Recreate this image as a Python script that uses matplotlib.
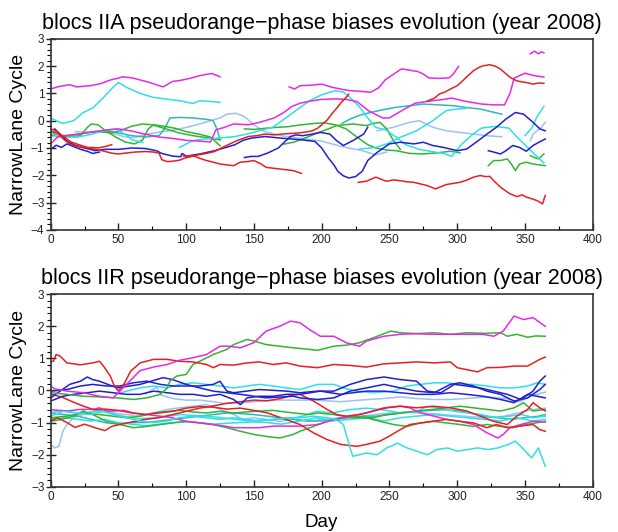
import matplotlib
matplotlib.use("Agg")
import matplotlib.pyplot as plt
from matplotlib.ticker import MultipleLocator

plt.rcParams['font.family'] = ['Liberation Sans', 'DejaVu Sans']

MAG = '#e629e6'
CYA = '#2fdfe6'
GRN = '#33b533'
RED = '#e62020'
BLU = '#2020d2'
LBL = '#9cc2ee'
TEA = '#2fb8b8'

# ---------------- blocs IIA ----------------
iia_mag1_d = [0, 5, 14, 19, 29, 37, 44, 50, 53, 61, 67, 73, 79, 83, 90, 95, 100, 105, 110, 115, 119, 125]
iia_mag1_v = [1.16, 1.24, 1.32, 1.24, 1.28, 1.36, 1.49, 1.56, 1.61, 1.56, 1.48, 1.40, 1.30, 1.24, 1.44, 1.47, 1.52, 1.58, 1.65, 1.70, 1.73, 1.61]
iia_mag2_d = [176, 180, 184, 192, 200, 208, 215, 221, 228, 236, 242, 247, 255, 259, 265, 271, 275, 279, 286, 294, 297, 301]
iia_mag2_v = [1.24, 1.16, 1.28, 1.30, 1.34, 1.22, 1.15, 1.10, 1.08, 1.04, 1.20, 1.50, 1.77, 1.90, 1.85, 1.80, 1.71, 1.57, 1.55, 1.57, 1.70, 1.99]
iia_mag3_d = [0, 5, 12, 20, 30, 40, 50, 60, 70, 80, 90, 100, 110, 118, 122, 128, 135, 146, 155, 165, 172, 178, 184, 192, 200, 210, 218, 226, 235, 245, 250, 255, 262, 269, 280, 290, 296, 305, 318, 327, 335, 339, 342, 350, 357, 364]
iia_mag3_v = [-0.85, -0.6, -0.55, -0.5, -0.42, -0.35, -0.3, -0.38, -0.5, -0.6, -0.65, -0.72, -0.75, -0.78, -0.33, -0.25, -0.12, -0.15, -0.05, 0.1, 0.3, 0.52, 0.64, 0.72, 0.78, 0.8, 0.78, 0.7, 0.35, 0.1, 0.1, 0.25, 0.45, 0.64, 0.72, 0.78, 0.83, 0.72, 0.61, 0.58, 0.58, 1.0, 1.56, 1.74, 1.65, 1.60]
iia_mag4_d = [354, 357, 360, 362, 364]
iia_mag4_v = [2.45, 2.55, 2.45, 2.52, 2.49]

iia_red1_d = [2, 6, 10, 15, 20, 25, 30, 35, 40, 45]
iia_red1_v = [-0.40, -0.5, -0.70, -0.88, -0.95, -1.0, -0.98, -1.0, -0.95, -0.88]
iia_red2_d = [0, 3, 6, 10, 15, 22, 30, 38, 45, 50, 55, 62, 70, 76, 80, 82, 86, 89, 95, 99, 105, 109, 115, 121, 126, 131, 138, 146, 152, 158, 165, 171, 177, 183, 188, 193, 197, 200, 204, 207, 211, 215, 218, 220]
iia_red2_v = [-0.30, -0.35, -0.45, -0.6, -0.78, -0.9, -1.02, -1.1, -1.19, -1.22, -1.19, -1.15, -1.13, -1.15, -1.19, -1.43, -1.50, -1.49, -1.45, -1.37, -1.30, -1.25, -1.20, -1.13, -1.00, -0.88, -0.72, -0.58, -0.55, -0.49, -0.52, -0.49, -0.47, -0.45, -0.42, -0.37, -0.28, -0.15, 0.02, 0.22, 0.45, 0.70, 0.85, 0.97]
iia_red3_d = [98, 105, 110, 115, 120, 125, 130, 135, 140, 145, 150, 155, 159, 164, 169, 174, 179, 185]
iia_red3_v = [-1.30, -1.28, -1.38, -1.46, -1.52, -1.59, -1.62, -1.65, -1.52, -1.50, -1.46, -1.58, -1.71, -1.74, -1.77, -1.80, -1.83, -1.93]
iia_red4_d = [227, 233, 240, 244, 248, 253, 258, 263, 268, 273, 278, 284, 288, 292, 297, 302, 307, 312, 317, 321, 324, 328, 332, 336, 339, 344, 348, 351, 355, 359, 363, 365]
iia_red4_v = [-2.26, -2.22, -2.07, -2.15, -2.22, -2.17, -2.20, -2.24, -2.26, -2.32, -2.38, -2.50, -2.42, -2.34, -2.30, -2.26, -2.18, -2.07, -2.01, -2.05, -2.04, -2.25, -2.44, -2.58, -2.68, -2.78, -2.72, -2.80, -2.86, -2.93, -3.05, -2.74]
iia_red5_d = [278, 283, 287, 291, 295, 300, 304, 308, 312, 316, 319, 324, 328, 332, 336, 339, 344, 348, 351, 356, 360, 364]
iia_red5_v = [0.72, 0.82, 0.98, 1.05, 1.16, 1.28, 1.46, 1.65, 1.83, 1.95, 2.01, 2.05, 2.0, 1.89, 1.72, 1.59, 1.46, 1.42, 1.40, 1.34, 1.38, 1.37]

iia_blue1_d = [3, 8, 12, 18, 25, 33, 40, 50, 60, 70, 78, 82, 90, 96, 97, 100, 110, 121, 128, 136, 142, 148, 158, 170, 185, 195, 200, 205, 209, 212, 216, 220, 225, 230, 234, 241, 250, 258, 268, 275, 282, 290, 300, 307, 314, 322, 329, 336, 343, 349, 356, 361, 365]
iia_blue1_v = [-0.3, -0.55, -0.75, -0.9, -1.0, -1.1, -1.05, -1.05, -1.0, -1.02, -1.1, -1.2, -1.3, -1.32, -1.2, -1.3, -1.22, -1.10, -1.0, -0.88, -0.72, -0.64, -0.58, -0.64, -0.70, -0.76, -1.0, -1.37, -1.62, -1.86, -2.02, -2.10, -2.05, -1.85, -1.46, -1.16, -0.85, -0.79, -0.85, -0.79, -0.91, -0.98, -1.10, -1.04, -0.79, -0.49, -0.24, 0.06, 0.30, 0.24, -0.06, -0.30, -0.37]
iia_blue2_d = [0, 4, 8, 12, 17, 22, 27, 31, 36]
iia_blue2_v = [-1.05, -0.9, -0.98, -0.85, -0.95, -1.05, -1.12, -1.2, -1.15]
iia_blue3_d = [143, 148, 153, 160, 168, 173, 177, 181, 186, 192, 199, 206, 211, 216, 223, 231, 234]
iia_blue3_v = [-1.35, -1.31, -1.31, -1.19, -1.0, -0.76, -0.58, -0.52, -0.55, -0.5, -0.43, -0.49, -0.73, -0.91, -0.73, -0.49, -0.24]
iia_blue4_d = [323, 327, 332, 336, 341, 346, 351, 356, 360, 365]
iia_blue4_v = [-1.10, -1.15, -1.22, -1.1, -0.91, -0.98, -1.12, -0.91, -0.8, -0.67]

iia_grn1_d = [0, 4, 12, 22, 27, 30, 35, 40, 48, 55, 62, 68, 72, 76, 83, 92, 100, 110, 118, 125]
iia_grn1_v = [-0.35, -0.55, -0.6, -0.55, -0.25, -0.12, -0.15, -0.35, -0.6, -0.78, -0.85, -0.7, -0.3, -0.15, -0.2, -0.28, -0.4, -0.5, -0.6, -0.92]
iia_grn2_d = [0, 8, 16, 25, 35, 45, 52, 60, 68, 75, 85, 95, 105, 115, 125]
iia_grn2_v = [-0.55, -0.55, -0.52, -0.45, -0.4, -0.45, -0.35, -0.2, -0.12, -0.15, -0.3, -0.45, -0.55, -0.62, -0.7]
iia_grn3_d = [143, 150, 158, 165, 175, 185, 195, 202, 210, 218, 226, 234, 240, 247, 255, 265, 275, 285, 295, 302]
iia_grn3_v = [-0.3, -0.32, -0.28, -0.25, -0.22, -0.15, -0.1, -0.08, -0.15, -0.3, -0.6, -0.88, -1.0, -1.07, -1.1, -1.2, -1.22, -1.18, -1.12, -1.18]
iia_grn4_d = [172, 180, 189, 198, 205, 211, 217, 223, 228, 233, 238, 243, 248, 253, 258]
iia_grn4_v = [-0.86, -0.78, -0.61, -0.43, -0.3, -0.18, -0.15, -0.12, -0.15, -0.18, -0.1, -0.06, -0.3, -0.73, -1.05]
iia_grn5_d = [323, 327, 332, 337, 340, 343, 346, 351, 356, 361, 365]
iia_grn5_v = [-1.65, -1.46, -1.46, -1.40, -1.59, -1.83, -1.59, -1.52, -1.59, -1.62, -1.65]
iia_grn6_d = [354, 357, 360, 364]
iia_grn6_v = [-1.28, -1.35, -1.4, -1.22]

iia_cya1_d = [0, 5, 9, 17, 24, 31, 39, 46, 50, 56, 66, 76, 86, 95, 105, 110, 117, 125]
iia_cya1_v = [0.10, -0.02, -0.10, 0.0, 0.30, 0.46, 0.85, 1.22, 1.40, 1.22, 1.00, 0.85, 0.79, 0.73, 0.63, 0.73, 0.71, 0.67]
iia_cya2_d = [95, 105, 115, 125, 135, 145, 154, 164, 174, 181, 191, 200, 210, 216, 222, 228, 234, 240, 247, 255, 262, 272, 281, 290, 296, 303, 311, 318, 328, 338, 345, 355, 364]
iia_cya2_v = [-0.98, -0.73, -0.67, -0.63, -0.59, -0.49, -0.37, -0.24, 0.12, 0.37, 0.73, 0.95, 1.1, 1.05, 0.8, 0.5, 0.1, -0.25, -0.33, -0.6, -0.88, -1.05, -1.13, -1.2, -1.31, -0.88, -0.52, -0.27, -0.21, -0.27, -0.64, -1.13, -1.55]
iia_cya3_d = [228, 240, 248, 258, 270, 282, 292, 300, 306]
iia_cya3_v = [-1.04, -0.98, -0.85, -0.61, -0.37, 0.0, 0.37, 0.43, 0.45]
iia_cya4_d = [350, 355, 359, 364]
iia_cya4_v = [-0.55, -0.27, 0.15, 0.52]
iia_cya5_d = [0, 10, 20, 30, 40, 48, 55, 60, 68]
iia_cya5_v = [-0.5, -0.6, -0.6, -0.5, -0.35, -0.3, -0.5, -0.7, -0.8]

iia_tea1_d = [40, 50, 60, 70, 80, 84, 88, 95, 105, 115, 120, 123, 125]
iia_tea1_v = [-0.35, -0.45, -0.55, -0.6, -0.55, -0.3, 0.1, 0.12, 0.1, 0.05, 0.0, -0.35, -0.7]
iia_tea2_d = [215, 221, 228, 236, 245, 255, 265, 275, 286, 297, 307, 317, 325, 333]
iia_tea2_v = [-0.1, 0.06, 0.2, 0.30, 0.4, 0.49, 0.55, 0.61, 0.58, 0.55, 0.48, 0.43, 0.33, 0.24]

iia_lbl1_d = [18, 25, 35, 45, 55, 62, 70, 80, 90, 100, 110, 118, 125, 130, 137, 143, 150, 158, 170, 185, 200, 215, 230, 240, 248]
iia_lbl1_v = [-0.4, -0.42, -0.38, -0.45, -0.6, -0.62, -0.5, -0.42, -0.35, -0.25, -0.12, 0.0, 0.1, 0.24, 0.27, 0.15, -0.15, -0.4, -0.55, -0.65, -0.75, -0.95, -1.1, -1.25, -1.15]
iia_lbl2_d = [241, 253, 265, 272, 282, 292, 302, 312, 322, 333]
iia_lbl2_v = [-0.37, -0.24, -0.06, 0.0, -0.24, -0.37, -0.43, -0.49, -0.55, -0.59]
iia_lbl3_d = [354, 356, 361, 365]
iia_lbl3_v = [-0.73, -0.49, -0.30, -0.06]

# ---------------- blocs IIR ----------------
iir_mag1_d = [0, 3, 12, 24, 36, 46, 50, 56, 66, 76, 86, 95, 105, 115, 125, 132, 140, 150, 159, 169, 177, 184, 191, 199, 209, 218, 223, 228, 233, 246, 258, 270, 282, 295, 307, 319, 327, 334, 342, 349, 356, 365]
iir_mag1_v = [0.14, 0.05, -0.02, -0.07, -0.18, -0.23, -0.07, 0.19, 0.62, 0.73, 0.81, 0.94, 1.02, 1.12, 1.38, 1.38, 1.33, 1.49, 1.85, 2.0, 2.16, 2.11, 1.90, 1.69, 1.69, 1.49, 1.43, 1.38, 1.54, 1.69, 1.75, 1.77, 1.75, 1.75, 1.75, 1.75, 1.69, 1.85, 2.32, 2.21, 2.27, 2.0]
iir_mag2_d = [0, 12, 22, 31, 36, 41, 46, 54, 61, 71, 81, 90, 100, 110, 120, 130, 135, 145, 154, 164, 174, 184, 197, 209, 221, 233, 246, 258, 265, 273, 283, 293, 302, 312, 322, 330, 334, 339, 347, 356, 365]
iir_mag2_v = [-0.6, -0.64, -0.59, -0.59, -0.54, -0.64, -0.64, -0.62, -0.70, -0.75, -0.80, -0.85, -0.96, -1.01, -1.06, -1.12, -1.16, -1.16, -1.16, -1.11, -1.11, -1.11, -1.06, -0.91, -0.80, -0.70, -0.54, -0.49, -0.54, -0.70, -0.80, -0.91, -0.96, -1.06, -1.32, -1.48, -1.37, -1.16, -1.06, -0.96, -0.98]

iir_grn1_d = [0, 12, 24, 36, 49, 61, 71, 81, 86, 88, 93, 100, 105, 110, 120, 130, 135, 145, 150, 159, 169, 179, 191, 197, 209, 220, 228, 238, 251, 258, 270, 283, 295, 307, 320, 332, 337, 344, 352, 358, 365]
iir_grn1_v = [-0.07, -0.12, -0.18, -0.2, -0.23, -0.28, -0.23, -0.12, 0.08, 0.29, 0.45, 0.50, 0.81, 0.91, 1.12, 1.28, 1.43, 1.59, 1.54, 1.43, 1.38, 1.33, 1.28, 1.25, 1.38, 1.42, 1.49, 1.64, 1.85, 1.80, 1.77, 1.80, 1.75, 1.80, 1.78, 1.80, 1.69, 1.75, 1.66, 1.70, 1.69]
iir_grn2_d = [0, 7, 17, 24, 31, 36, 41, 51, 61, 71, 81, 90, 100, 110, 120, 130, 140, 150, 159, 169, 179, 184, 194, 204, 214, 223, 233, 243, 253, 263, 273, 282, 292, 302, 312, 322, 332, 341, 351, 365]
iir_grn2_v = [-0.96, -0.91, -0.80, -0.64, -0.75, -0.85, -0.96, -1.06, -1.16, -1.12, -1.06, -1.01, -0.96, -1.01, -1.06, -1.16, -1.27, -1.37, -1.43, -1.48, -1.37, -1.27, -1.12, -0.96, -0.85, -0.80, -0.85, -0.96, -1.06, -1.12, -1.01, -0.96, -1.01, -1.06, -1.12, -1.06, -1.12, -1.16, -1.06, -0.96]
iir_grn3_d = [0, 12, 24, 36, 46, 56, 66, 76, 86, 95, 105, 115, 125, 135, 150, 164, 179, 191, 197, 209, 223, 238, 248, 258, 270, 282, 292, 302, 312, 322, 332, 342, 349, 356, 365]
iir_grn3_v = [-0.85, -0.8, -0.7, -0.75, -0.8, -0.85, -0.8, -0.7, -0.65, -0.62, -0.67, -0.7, -0.65, -0.7, -0.65, -0.62, -0.7, -0.75, -0.7, -0.75, -0.85, -0.85, -0.75, -0.7, -0.64, -0.59, -0.54, -0.49, -0.54, -0.59, -0.64, -0.54, -0.38, -0.64, -0.59]

iir_red1_d = [0, 2, 4, 7, 12, 22, 31, 36, 39, 44, 47, 50, 54, 59, 66, 76, 86, 95, 105, 115, 120, 125, 135, 145, 154, 164, 174, 184, 197, 209, 221, 233, 246, 258, 270, 283, 295, 300, 307, 315, 322, 332, 342, 352, 361, 365]
iir_red1_v = [0.9, 0.91, 1.12, 1.07, 0.86, 0.80, 0.86, 0.91, 0.76, 0.45, 0.14, -0.02, 0.19, 0.60, 0.86, 0.97, 0.97, 0.91, 0.89, 0.81, 0.71, 0.81, 0.79, 0.86, 0.89, 0.81, 0.86, 0.76, 0.71, 0.81, 0.78, 0.73, 0.83, 0.86, 0.89, 0.86, 0.89, 0.71, 0.65, 0.58, 0.71, 0.72, 0.76, 0.76, 0.97, 1.04]
iir_red2_d = [0, 8, 16, 25, 32, 40, 50, 60, 70, 80, 90, 100, 110, 120, 130, 140, 150, 160, 170, 184, 194, 204, 214, 226, 233, 243, 250, 258, 265, 282, 292, 302, 312, 322, 329, 337, 346, 356, 361, 365]
iir_red2_v = [-0.12, -0.2, -0.35, -0.5, -0.6, -0.58, -0.62, -0.7, -0.75, -0.7, -0.65, -0.55, -0.5, -0.52, -0.58, -0.55, -0.62, -0.7, -0.85, -1.06, -1.32, -1.53, -1.68, -1.74, -1.68, -1.58, -1.42, -1.22, -1.06, -0.96, -0.90, -0.96, -1.01, -1.16, -1.06, -1.16, -1.11, -1.06, -1.22, -1.27]
iir_red3_d = [0, 5, 12, 18, 25, 32, 40, 45, 52, 60, 70, 80, 90, 100, 110, 120, 130, 140, 150, 160, 170, 178, 184, 194, 204, 211, 218, 228, 238, 248, 258, 270, 282, 295, 307, 317, 327, 337, 344, 352, 356, 361, 365]
iir_red3_v = [-0.95, -0.85, -1.0, -1.15, -1.05, -1.15, -1.25, -1.12, -1.05, -0.98, -0.9, -0.85, -0.75, -0.65, -0.55, -0.48, -0.4, -0.35, -0.3, -0.32, -0.25, -0.15, -0.12, -0.33, -0.59, -0.75, -0.80, -0.75, -0.64, -0.54, -0.49, -0.54, -0.49, -0.54, -0.64, -0.80, -0.96, -1.06, -0.80, -0.59, -0.38, -0.54, -0.64]

iir_blu1_d = [0, 7, 14, 22, 27, 31, 36, 49, 66, 83, 90, 100, 110, 120, 140, 159, 179, 184, 197, 209, 221, 233, 246, 258, 270, 283, 295, 302, 312, 322, 332, 342, 352, 361, 365]
iir_blu1_v = [-0.23, -0.02, 0.19, 0.29, 0.42, 0.34, 0.29, 0.08, 0.19, 0.40, 0.34, 0.19, 0.08, -0.02, -0.12, -0.23, -0.18, -0.23, -0.28, -0.23, -0.02, 0.08, 0.19, 0.08, -0.02, -0.07, 0.19, 0.24, 0.14, -0.02, -0.12, -0.33, -0.23, 0.03, 0.19]
iir_blu2_d = [0, 12, 22, 31, 41, 51, 61, 71, 81, 90, 100, 110, 120, 125, 130, 135, 154, 174, 184, 197, 209, 221, 233, 246, 258, 270, 278, 288, 298, 307, 317, 327, 337, 347, 356, 361, 365]
iir_blu2_v = [-0.02, 0.03, 0.14, 0.19, 0.14, 0.14, 0.24, 0.29, 0.19, 0.14, 0.14, 0.14, 0.19, 0.29, -0.02, -0.07, 0.03, -0.02, -0.07, -0.02, -0.02, 0.19, 0.34, 0.42, 0.34, 0.29, -0.02, -0.07, 0.19, 0.14, 0.08, -0.02, -0.12, -0.28, -0.02, 0.29, 0.45]
iir_blu3_d = [0, 9, 17, 27, 36, 46, 56, 66, 76, 86, 95, 105, 115, 125, 135, 140, 145, 154, 164, 174, 184, 199, 214, 223, 233, 246, 258, 270, 283, 295, 307, 319, 332, 342, 352, 365]
iir_blu3_v = [-0.33, -0.18, -0.12, -0.07, -0.02, -0.07, -0.12, -0.12, -0.02, -0.07, -0.12, -0.12, -0.18, -0.12, -0.28, -0.44, -0.23, -0.18, -0.18, -0.12, -0.12, -0.02, -0.12, -0.07, -0.02, -0.02, -0.07, -0.12, -0.12, -0.07, -0.12, -0.18, -0.28, -0.38, -0.12, -0.23]

iir_cya1_d = [50, 56, 66, 76, 86, 95, 105, 115, 125, 135, 145, 154, 164, 174, 184, 197, 209, 216, 226, 238, 253, 263, 273, 283, 292, 302, 312, 322, 332, 342, 352, 359, 365]
iir_cya1_v = [-0.1, -0.02, 0.08, 0.14, 0.08, 0.19, 0.24, 0.19, 0.14, 0.08, 0.14, 0.19, 0.14, 0.08, 0.03, 0.19, 0.19, 0.08, -0.02, -0.07, -0.02, 0.14, 0.19, 0.24, 0.24, 0.19, 0.19, 0.14, 0.08, 0.08, 0.14, 0.24, 0.19]
iir_cya2_d = [0, 9, 19, 29, 39, 46, 56, 66, 76, 86, 95, 105, 115, 125, 135, 145, 154, 164, 174, 184, 194, 204, 211, 216, 221, 223, 228, 233, 241, 248, 256, 263, 270, 278, 285, 293, 300, 308, 315, 323, 330, 338, 343, 348, 355, 360, 365]
iir_cya2_v = [-0.8, -0.65, -0.7, -0.75, -0.65, -0.75, -0.85, -0.95, -1.0, -0.95, -0.85, -0.8, -0.85, -0.9, -0.85, -0.9, -0.95, -0.9, -0.85, -0.85, -0.80, -0.85, -0.91, -1.06, -1.79, -2.05, -2.0, -1.95, -2.0, -1.79, -1.64, -1.79, -1.89, -2.0, -1.84, -1.79, -1.89, -1.84, -1.79, -1.84, -1.79, -1.68, -1.58, -1.79, -2.1, -1.79, -2.36]
iir_cya3_d = [0, 8, 16, 24, 32, 40, 48, 56, 66, 76, 86, 96, 106, 116, 126, 136, 146, 156, 166, 176, 186, 196, 208, 220, 233, 245, 258, 270, 278, 288, 298, 308, 318, 328, 338, 348, 356, 365]
iir_cya3_v = [-0.7, -0.62, -0.68, -0.72, -0.65, -0.6, -0.75, -0.82, -0.88, -0.85, -0.8, -0.75, -0.78, -0.8, -0.85, -0.9, -0.95, -0.92, -0.9, -0.88, -0.8, -0.65, -0.7, -0.6, -0.55, -0.6, -0.7, -0.65, -0.5, -0.55, -0.65, -0.7, -0.75, -0.85, -0.8, -0.75, -0.85, -0.8]
iir_cya4_d = [0, 10, 20, 30, 40, 50, 60, 70, 80, 90, 100, 110, 120, 130, 140, 150, 160, 170, 184, 196, 208, 221, 233, 246, 258, 270, 282, 295, 307, 320, 332, 344, 356, 365]
iir_cya4_v = [-0.9, -0.85, -0.9, -0.95, -0.9, -1.0, -1.05, -1.1, -1.05, -1.0, -0.98, -1.0, -1.05, -1.02, -1.0, -0.98, -1.0, -1.05, -0.95, -0.85, -0.95, -0.9, -0.85, -0.95, -0.85, -0.8, -0.75, -0.8, -0.85, -0.9, -0.95, -0.85, -0.95, -0.9]
iir_tea1_d = [0, 10, 20, 30, 40, 50, 60, 70, 80, 90, 100, 110, 120, 130, 140, 150, 160, 170, 180, 190, 200, 210, 220, 230, 240, 250, 260, 270, 280, 290, 300, 310, 320, 330, 340, 350, 360, 365]
iir_tea1_v = [-0.7, -0.75, -0.8, -0.9, -1.0, -1.05, -1.0, -1.0, -0.95, -0.9, -0.85, -0.8, -0.75, -0.7, -0.72, -0.75, -0.8, -0.85, -0.9, -0.95, -0.95, -0.9, -0.85, -0.8, -0.8, -0.75, -0.7, -0.65, -0.62, -0.6, -0.62, -0.7, -0.8, -0.85, -0.9, -0.85, -0.8, -0.75]
iir_lbl1_d = [0, 3, 6, 9, 12, 17, 27, 36, 46, 56, 66, 76, 86, 95, 105, 115, 125, 135, 142, 150, 159, 169, 179, 191, 200, 215, 230, 245, 260, 275, 290, 305, 320, 335, 345, 355, 365]
iir_lbl1_v = [-1.68, -1.79, -1.74, -1.27, -1.06, -0.85, -0.70, -0.64, -0.70, -0.75, -0.80, -0.70, -0.59, -0.54, -0.49, -0.44, -0.59, -0.75, -0.90, -0.85, -0.90, -0.96, -0.90, -0.96, -0.9, -0.85, -0.8, -0.72, -0.68, -0.7, -0.75, -0.8, -0.85, -0.8, -0.7, -0.6, -0.55]
iir_lbl2_d = [70, 78, 82, 90, 100, 110, 120, 128, 138, 150, 165, 180, 195, 214, 228, 246, 258, 270, 282, 295, 307, 322, 336, 346, 356, 365]
iir_lbl2_v = [-0.1, 0.1, -0.15, -0.25, -0.3, -0.3, -0.35, -0.4, -0.4, -0.35, -0.3, -0.3, -0.3, -0.35, -0.3, -0.25, -0.2, -0.25, -0.28, -0.28, -0.25, -0.2, -0.25, -0.35, -0.15, -0.05]

iia_lines = [
    (iia_lbl1_d, iia_lbl1_v, LBL), (iia_lbl2_d, iia_lbl2_v, LBL), (iia_lbl3_d, iia_lbl3_v, LBL),
    (iia_tea1_d, iia_tea1_v, TEA), (iia_tea2_d, iia_tea2_v, TEA),
    (iia_grn1_d, iia_grn1_v, GRN), (iia_grn2_d, iia_grn2_v, GRN), (iia_grn3_d, iia_grn3_v, GRN),
    (iia_grn4_d, iia_grn4_v, GRN), (iia_grn5_d, iia_grn5_v, GRN), (iia_grn6_d, iia_grn6_v, GRN),
    (iia_cya1_d, iia_cya1_v, CYA), (iia_cya2_d, iia_cya2_v, CYA), (iia_cya3_d, iia_cya3_v, CYA),
    (iia_cya4_d, iia_cya4_v, CYA), (iia_cya5_d, iia_cya5_v, CYA),
    (iia_mag1_d, iia_mag1_v, MAG), (iia_mag2_d, iia_mag2_v, MAG), (iia_mag3_d, iia_mag3_v, MAG),
    (iia_mag4_d, iia_mag4_v, MAG),
    (iia_blue1_d, iia_blue1_v, BLU), (iia_blue2_d, iia_blue2_v, BLU), (iia_blue3_d, iia_blue3_v, BLU),
    (iia_blue4_d, iia_blue4_v, BLU),
    (iia_red1_d, iia_red1_v, RED), (iia_red2_d, iia_red2_v, RED), (iia_red3_d, iia_red3_v, RED),
    (iia_red4_d, iia_red4_v, RED), (iia_red5_d, iia_red5_v, RED),
]
iir_lines = [
    (iir_lbl1_d, iir_lbl1_v, LBL), (iir_lbl2_d, iir_lbl2_v, LBL), (iir_tea1_d, iir_tea1_v, TEA),
    (iir_cya3_d, iir_cya3_v, CYA), (iir_cya4_d, iir_cya4_v, CYA),
    (iir_grn2_d, iir_grn2_v, GRN), (iir_grn3_d, iir_grn3_v, GRN),
    (iir_mag2_d, iir_mag2_v, MAG), (iir_red2_d, iir_red2_v, RED), (iir_red3_d, iir_red3_v, RED),
    (iir_cya2_d, iir_cya2_v, CYA), (iir_cya1_d, iir_cya1_v, CYA),
    (iir_blu1_d, iir_blu1_v, BLU), (iir_blu2_d, iir_blu2_v, BLU), (iir_blu3_d, iir_blu3_v, BLU),
    (iir_grn1_d, iir_grn1_v, GRN), (iir_red1_d, iir_red1_v, RED), (iir_mag1_d, iir_mag1_v, MAG),
]

fig = plt.figure(figsize=(6.18, 5.32), dpi=100)
ax1 = fig.add_axes([0.082, 0.568, 0.877, 0.359])
ax2 = fig.add_axes([0.082, 0.085, 0.877, 0.362])


def style(ax, ylo, yhi, title):
    ax.set_xlim(0, 400)
    ax.set_ylim(ylo, yhi)
    ax.xaxis.set_major_locator(MultipleLocator(50))
    ax.xaxis.set_minor_locator(MultipleLocator(25))
    ax.yaxis.set_major_locator(MultipleLocator(1))
    ax.yaxis.set_minor_locator(MultipleLocator(0.2))
    ax.tick_params(axis='x', which='major', direction='in', length=5, width=1, labelsize=8.5, pad=3, colors='#222222')
    ax.tick_params(axis='x', which='minor', direction='in', length=3, width=0.8)
    ax.tick_params(axis='y', which='major', direction='inout', length=7, width=1, labelsize=8.5, pad=1, colors='#222222')
    ax.tick_params(axis='y', which='minor', direction='out', length=3, width=0.8)
    for s in ax.spines.values():
        s.set_linewidth(1.2)
        s.set_color('#333333')
    ax.set_ylabel('NarrowLane Cycle', fontsize=14, labelpad=3)
    ax.set_title(title, fontsize=15.5, pad=7)


for d, v, c in iia_lines:
    ax1.plot(d, v, color=c, lw=1.1)
for d, v, c in iir_lines:
    ax2.plot(d, v, color=c, lw=1.1)

style(ax1, -4, 3, 'blocs IIA pseudorange\u2212phase biases evolution (year 2008)')
style(ax2, -3, 3, 'blocs IIR pseudorange\u2212phase biases evolution (year 2008)')
ax2.set_xlabel('Day', fontsize=13.5, labelpad=8)

fig.savefig('out.png', dpi=100, facecolor='white')
